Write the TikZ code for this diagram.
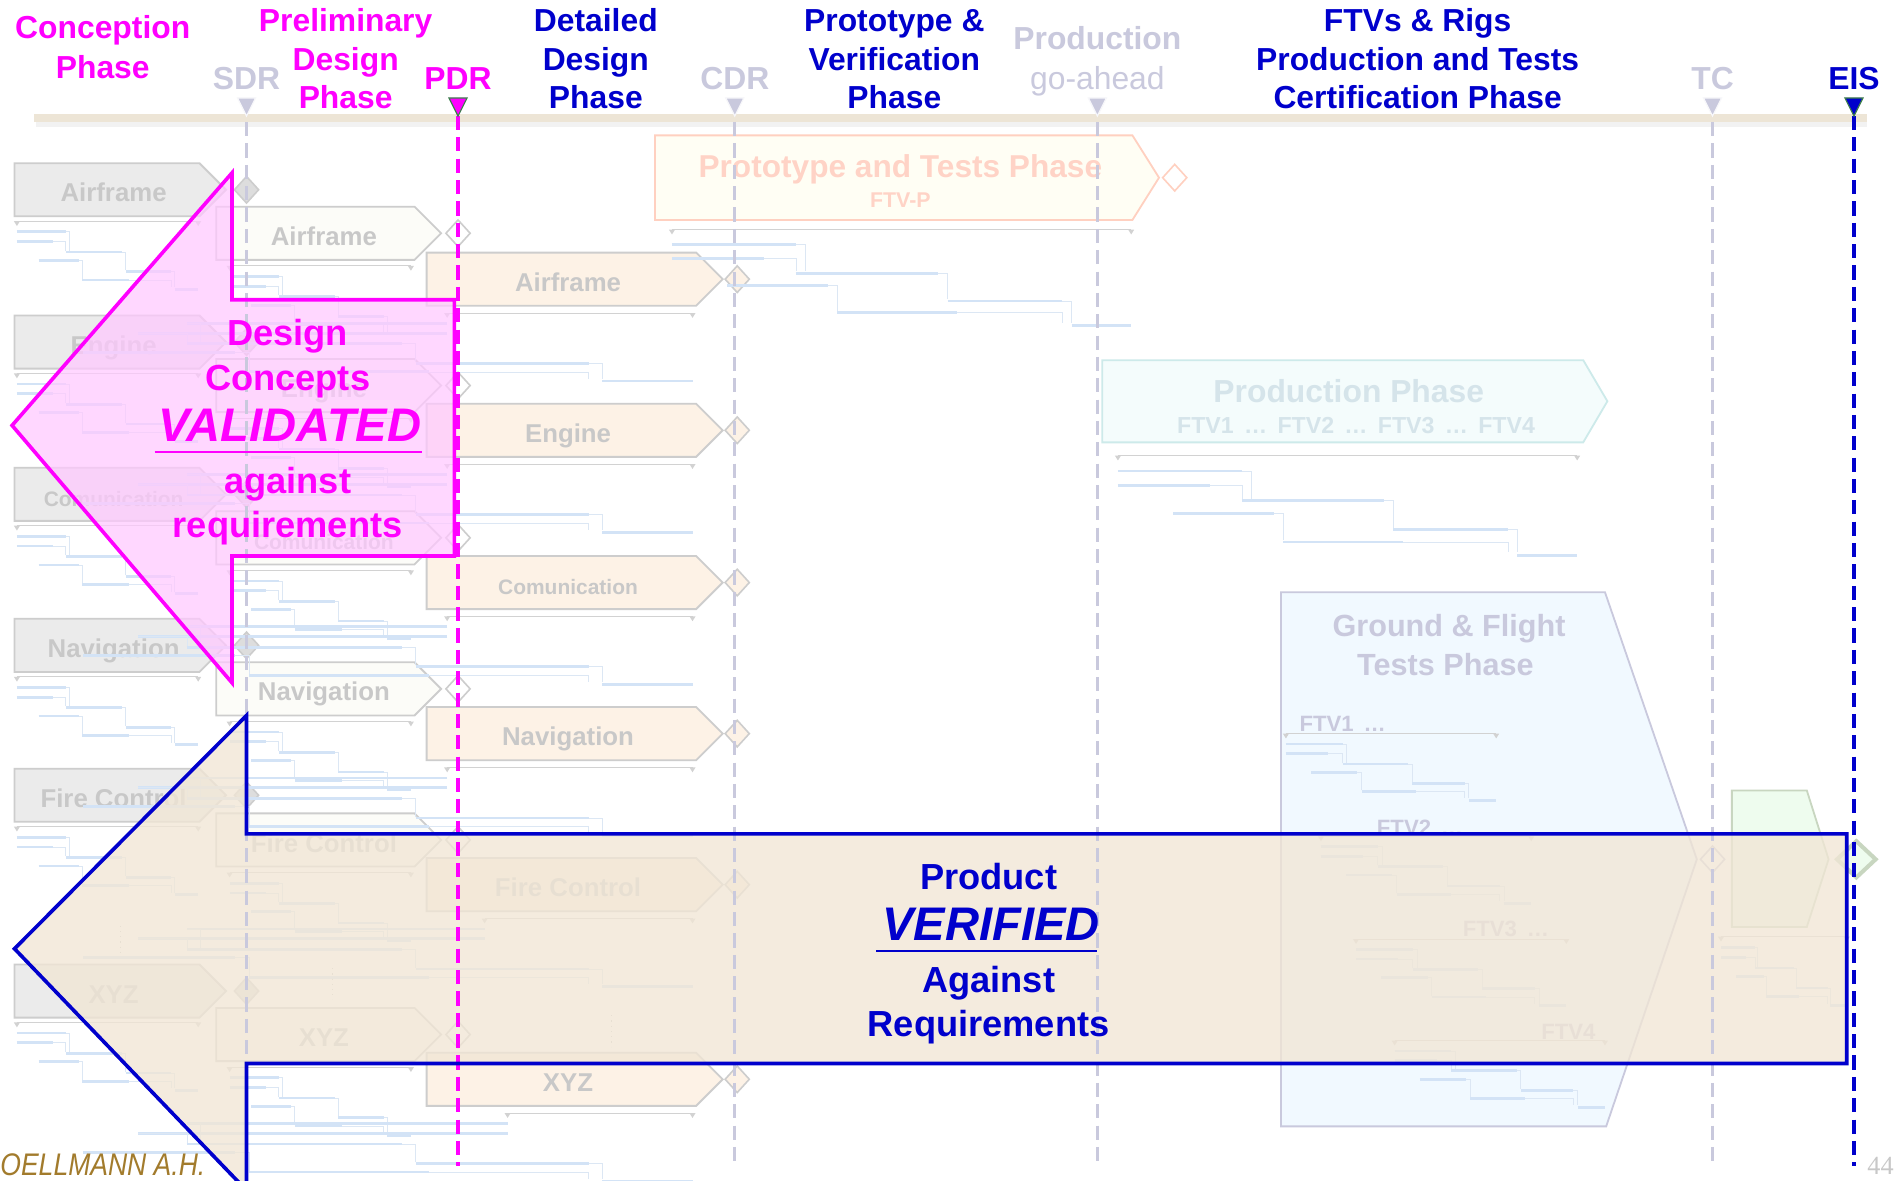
\documentclass[tikz,border=0pt]{standalone}
\usepackage{fontspec}
\setmainfont{Liberation Sans}
\newfontfamily\condfont[FakeStretch=0.85]{Liberation Sans}
\newfontfamily\seriffont{Liberation Serif}
\usetikzlibrary{calc}
\definecolor{mag}{HTML}{FF00FF}
\definecolor{dblue}{HTML}{0000CC}
\definecolor{lav}{HTML}{C9C9DD}
\definecolor{lgrey}{HTML}{C8C8C8}
\definecolor{boxgrey}{HTML}{EBEBEB}
\definecolor{boxline}{HTML}{CDCDCD}
\definecolor{cDg}{HTML}{DDDDDD}
\definecolor{peach}{HTML}{FDF2E6}
\definecolor{offwhite}{HTML}{FCFCF8}
\definecolor{barbeige}{HTML}{EDE5D6}
\definecolor{pinkfill}{HTML}{FFC8FF}
\definecolor{beigefill}{HTML}{F1E6D5}
\definecolor{salmon}{HTML}{FFD3C6}
\definecolor{salmonline}{HTML}{FFD0C0}
\definecolor{protofill}{HTML}{FFFEF4}
\definecolor{prodfill}{HTML}{F4FCFC}
\definecolor{prodline}{HTML}{CDEAEA}
\definecolor{prodtext}{HTML}{D5E4EA}
\definecolor{gftfill}{HTML}{F1F9FF}
\definecolor{greenfill}{HTML}{EEFCEE}
\definecolor{greenline}{HTML}{C8D6C0}
\definecolor{cGbar}{HTML}{D3E3F6}
\definecolor{cGthin}{HTML}{DCE7F4}
\definecolor{cBrk}{HTML}{D2D2D2}
\definecolor{gold}{HTML}{A27B2C}
\definecolor{cGreenDark}{HTML}{3E7E4E}

\tikzset{
  gbrk/.style={draw=cBrk, line width=0.5pt},
  gbarln/.style={draw=cGbar, line width=1.4pt},
  gthinln/.style={draw=cGthin, line width=0.4pt},
  tbx/.style={draw=boxline, line width=0.9pt, line join=miter},
  txt/.style={inner sep=0pt, text height=0.72em, text depth=0pt, yshift=-2.4pt},
  hdr/.style={txt, font=\bfseries\fontsize{15.8}{19}\selectfont},
  lbl/.style={txt, text=lgrey},
  big/.style={txt, font=\bfseries\fontsize{18}{21}\selectfont},
  bigit/.style={txt, font=\bfseries\itshape\fontsize{23.4}{26}\selectfont},
  msline/.style={line width=1.6pt, dash pattern=on 7pt off 3.6pt},
}

\newcommand{\gantt}[4]{%
 \draw[gbrk] (#1,{#2}) -- ({#1+#3},{#2});
 \fill[cBrk] ({#1-2.5},{#2}) -- ({#1+2.5},{#2}) -- (#1,{#2+4}) -- cycle;
 \fill[cBrk] ({#1+#3-2.5},{#2}) -- ({#1+#3+2.5},{#2}) -- ({#1+#3},{#2+4}) -- cycle;
 \draw[gbarln] (#1,{#2+0.15*#4}) -- ({#1+0.27*#3},{#2+0.15*#4});
 \draw[gthinln] ({#1+0.27*#3},{#2+0.15*#4}) -- ({#1+0.29*#3},{#2+0.15*#4}) -- ({#1+0.29*#3},{#2+0.42*#4});
 \draw[gbarln] (#1,{#2+0.29*#4}) -- ({#1+0.2*#3},{#2+0.29*#4});
 \draw[gthinln] ({#1+0.2*#3},{#2+0.29*#4}) -- ({#1+0.27*#3},{#2+0.29*#4}) -- ({#1+0.27*#3},{#2+0.42*#4});
 \draw[gbarln] ({#1+0.27*#3},{#2+0.44*#4}) -- ({#1+0.58*#3},{#2+0.44*#4});
 \draw[gthinln] ({#1+0.58*#3},{#2+0.44*#4}) -- ({#1+0.6*#3},{#2+0.44*#4}) -- ({#1+0.6*#3},{#2+0.7*#4});
 \draw[gbarln] ({#1+0.12*#3},{#2+0.56*#4}) -- ({#1+0.34*#3},{#2+0.56*#4});
 \draw[gthinln] ({#1+0.34*#3},{#2+0.56*#4}) -- ({#1+0.36*#3},{#2+0.56*#4}) -- ({#1+0.36*#3},{#2+0.82*#4});
 \draw[gbarln] ({#1+0.6*#3},{#2+0.72*#4}) -- ({#1+0.85*#3},{#2+0.72*#4});
 \draw[gthinln] ({#1+0.85*#3},{#2+0.72*#4}) -- ({#1+0.87*#3},{#2+0.72*#4}) -- ({#1+0.87*#3},{#2+0.94*#4});
 \draw[gbarln] ({#1+0.36*#3},{#2+0.84*#4}) -- ({#1+0.62*#3},{#2+0.84*#4});
 \draw[gthinln] ({#1+0.62*#3},{#2+0.84*#4}) -- ({#1+0.85*#3},{#2+0.84*#4}) -- ({#1+0.85*#3},{#2+0.94*#4});
 \draw[gbarln] ({#1+0.87*#3},{#2+0.97*#4}) -- ({#1+#3},{#2+0.97*#4});
}
\newcommand{\tbox}[5]{\filldraw[tbx, fill=#5] (#1,{#4-22}) -- (#2,{#4-22}) -- (#3,{#4}) -- (#2,{#4+22}) -- (#1,{#4+22}) -- cycle;}
\newcommand{\dmd}[4]{\filldraw[line width=0.8pt, fill=#3, draw=#4] ({#1-10},{#2}) -- (#1,{#2-11}) -- ({#1+10},{#2}) -- (#1,{#2+11}) -- cycle;}
\newcommand{\mtri}[3]{\filldraw[fill=#2, draw=#3, line width=0.6pt] ({#1-7.5},81) -- ({#1+7.5},81) -- (#1,96) -- cycle;}

\begin{document}
\begin{tikzpicture}[x=0.6pt, y=-0.6pt]
\useasboundingbox[fill=white] (0,0) rectangle (1568,977);

% timeline bar
\fill[black!5] (30,101) rectangle (1545,105);
\fill[barbeige] (28,94) rectangle (1545,101);

% column 1 (conception)
\foreach \yc/\lab/\sz [count=\i] in {157/Airframe/12.8, 283/Engine/12.8, 409/Comunication/10.4, 534/Navigation/12.8, 658/Fire Control/12.8, 820/XYZ/12.8}{
  \gantt{14}{\yc+26}{150}{58}
  \tbox{12}{165}{187}{\yc}{boxgrey}
  \dmd{204}{\yc}{cDg}{boxline}
  \node[lbl, font=\bfseries\fontsize{\sz}{14}\selectfont] (ca\i) at (94,\yc) {\lab};
}
% column 2 (preliminary)
\foreach \yc/\lab/\sz [count=\i] in {193/Airframe/12.8, 319/Engine/12.8, 445/Comunication/10.4, 570/Navigation/12.8, 695/Fire Control/12.8, 856/XYZ/12.8}{
  \gantt{190}{\yc+27}{150}{58}
  \tbox{179}{343}{365}{\yc}{offwhite}
  \dmd{379}{\yc}{white}{boxline}
  \node[lbl, font=\bfseries\fontsize{\sz}{14}\selectfont] (cb\i) at (268,\yc) {\lab};
}
% column 3 (detailed)
\foreach \yc/\lab/\sz/\gx [count=\i] in {231/Airframe/12.8/370, 356/Engine/12.8/370, 482/Comunication/10.4/370, 607/Navigation/12.8/370, 732/Fire Control/12.8/401, 893/XYZ/12.8/420}{
  \gantt{\gx}{\yc+28}{573-\gx}{58}
  \tbox{353}{576}{598}{\yc}{peach}
  \dmd{610}{\yc}{peach}{boxline}
  \node[lbl, font=\bfseries\fontsize{\sz}{14}\selectfont] (cc\i) at (470,\yc) {\lab};
}
% dotted continuation marks
\draw[lgrey, line width=0.6pt, dotted] (100,766) -- (100,790);
\draw[lgrey, line width=0.6pt, dotted] (275,801) -- (275,827);
\draw[lgrey, line width=0.6pt, dotted] (506,840) -- (506,866);

% prototype phase
\gantt{556}{190}{380}{82}
\filldraw[fill=protofill, draw=salmonline, line width=0.9pt] (542,112) -- (937,112) -- (959,147) -- (937,182) -- (542,182) -- cycle;
\node[txt, font=\bfseries\fontsize{15.7}{18}\selectfont, text=salmon] (proto) at (745,137) {Prototype and Tests Phase};
\node[txt, font=\bfseries\fontsize{10.6}{12}\selectfont, text=salmon] (ftvp) at (745,162) {FTV-P};
\dmd{972}{147}{white}{salmonline}

% production phase
\gantt{925}{377}{380}{85}
\filldraw[fill=prodfill, draw=prodline, line width=0.9pt] (912,298) -- (1310,298) -- (1330,332) -- (1310,366) -- (912,366) -- cycle;
\node[txt, font=\bfseries\fontsize{15.8}{18}\selectfont, text=prodtext] (prod) at (1116,323) {Production Phase};
\node[txt, font=\bfseries\fontsize{11.5}{13}\selectfont, text=prodtext] (prodftv) at (1122,349) {FTV1 \,…\, FTV2 \,…\, FTV3 \,…\, FTV4};

% ground & flight tests phase
\filldraw[fill=gftfill, draw=lav, line width=0.9pt] (1060,490) -- (1328,490) -- (1404,711) -- (1329,932) -- (1060,932) -- cycle;
\node[txt, font=\bfseries\fontsize{15.2}{19}\selectfont, text=lav] (gft1) at (1199,517) {Ground \& Flight};
\node[txt, font=\bfseries\fontsize{15.2}{19}\selectfont, text=lav] (gft2) at (1196,549) {Tests Phase};
\foreach \fx/\fy/\ft/\gx/\gy [count=\i] in {1075/595/FTV1 \,…/1064/607, 1139/681/FTV2 \,…/1093/692, 1210/765/FTV3 \,…/1122/777, 1275/850/FTV4/1154/861}{
  \node[txt, font=\bfseries\fontsize{11}{13}\selectfont, text=lav, anchor=west] (ftv\i) at (\fx,\fy) {\ft};
  \gantt{\gx}{\gy}{174}{57}
}
\dmd{1417}{711}{white}{lav}
% TC block
\filldraw[fill=greenfill, draw=greenline, line width=0.9pt] (1433,654) -- (1495,654) -- (1513,711) -- (1495,767) -- (1433,767) -- cycle;
\filldraw[fill=greenfill, draw=greenline, line width=2pt] (1520,711) -- (1536,696) -- (1552,711) -- (1536,726) -- cycle;
\gantt{1424}{775}{104}{59}

% big magenta arrow
\fill[pinkfill, fill opacity=0.72] (10,352) -- (192,143) -- (192,248) -- (376,248) -- (376,460) -- (192,460) -- (192,565) -- cycle;
% big blue arrow
\fill[beigefill, fill opacity=0.78] (12,785) -- (204,592) -- (204,690) -- (1528,690) -- (1528,880) -- (204,880) -- (204,985) -- cycle;

% milestone lines
\draw[lav, msline] (204,101) -- (204,965);
\draw[lav, msline] (608,101) -- (608,965);
\draw[lav, msline] (908,101) -- (908,965);
\draw[lav, msline] (1417,101) -- (1417,965);
\draw[mag, msline] (379,96) -- (379,965);
\draw[dblue, msline] (1534,96) -- (1534,965);

% arrow outlines
\draw[mag, line width=1.8pt, line join=miter] (10,352) -- (192,143) -- (192,248) -- (376,248) -- (376,460) -- (192,460) -- (192,565) -- cycle;
\draw[dblue, line width=1.8pt, line join=miter] (12,785) -- (204,592) -- (204,690) -- (1528,690) -- (1528,880) -- (204,880) -- (204,985) -- cycle;

% milestone triangles
\mtri{204}{lav}{white!85!lav}
\mtri{379}{mag}{cGreenDark}
\mtri{608}{lav}{white!85!lav}
\mtri{908}{lav}{white!85!lav}
\mtri{1417}{lav}{white!85!lav}
\mtri{1534}{dblue}{cGreenDark}

% headers
\node[hdr, text=mag] (h1a) at (85,22) {Conception};
\node[hdr, text=mag] (h1b) at (85,55) {Phase};
\node[hdr, text=mag] (h2a) at (286,16) {Preliminary};
\node[hdr, text=mag] (h2b) at (286,48) {Design};
\node[hdr, text=mag] (h2c) at (286,80) {Phase};
\node[hdr, text=dblue] (h3a) at (493,16) {Detailed};
\node[hdr, text=dblue] (h3b) at (493,48) {Design};
\node[hdr, text=dblue] (h3c) at (493,80) {Phase};
\node[hdr, text=dblue] (h4a) at (740,16) {Prototype \&};
\node[hdr, text=dblue] (h4b) at (740,48) {Verification};
\node[hdr, text=dblue] (h4c) at (740,80) {Phase};
\node[hdr, text=lav] (h5a) at (908,31) {Production};
\node[hdr, text=lav, font=\mdseries\fontsize{15.8}{19}\selectfont] (h5b) at (908,64) {go-ahead};
\node[hdr, text=dblue] (h6a) at (1173,16) {FTVs \& Rigs};
\node[hdr, text=dblue] (h6b) at (1173,48) {Production and Tests};
\node[hdr, text=dblue] (h6c) at (1173,80) {Certification Phase};
\node[hdr, text=lav] (sdr) at (204,64) {SDR};
\node[hdr, text=mag] (pdr) at (379,64) {PDR};
\node[hdr, text=lav] (cdr) at (608,64) {CDR};
\node[hdr, text=lav] (tc) at (1417,64) {TC};
\node[hdr, text=dblue] (eis) at (1534,64) {EIS};

% validated text
\node[big, text=mag] (v1) at (238,276) {Design};
\node[big, text=mag] (v2) at (238,313) {Concepts};
\node[bigit, text=mag] (v3) at (240,355) {VALIDATED};
\node[big, text=mag] (v4) at (238,398) {against};
\node[big, text=mag] (v5) at (238,435) {requirements};
\draw[mag, line width=1.3pt] (128,374) -- (349,374);

% verified text
\node[big, text=dblue] (p1) at (818,726) {Product};
\node[bigit, text=dblue] (p2) at (820,768) {VERIFIED};
\node[big, text=dblue] (p3) at (818,811) {Against};
\node[big, text=dblue] (p4) at (818,848) {Requirements};
\draw[dblue, line width=1.3pt] (725,787) -- (908,787);

% footer
\node[txt, font=\condfont\itshape\fontsize{15.5}{17}\selectfont, text=gold, anchor=west] (auth) at (0,963) {OELLMANN A.H.};
\node[txt, font=\seriffont\fontsize{13}{15}\selectfont, text=lgrey] (pg) at (1556,962) {44};
\end{tikzpicture}
\end{document}
